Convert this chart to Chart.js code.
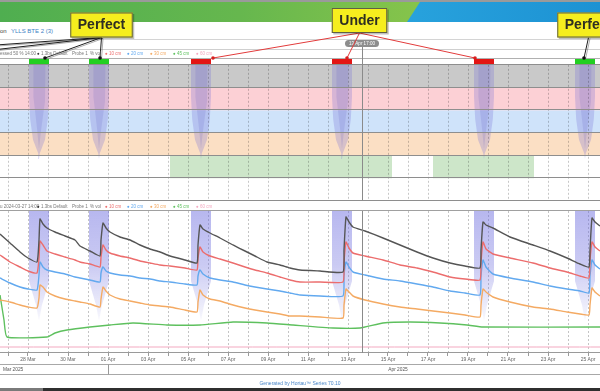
<!DOCTYPE html>
<html><head><meta charset="utf-8">
<script src="https://cdn.jsdelivr.net/npm/chart.js@4.4.1/dist/chart.umd.min.js"></script>
<style>
html,body{margin:0;padding:0;background:#fff;}
body{width:600px;height:391px;position:relative;overflow:hidden;font-family:"Liberation Sans",Arial,sans-serif;}
.abs{position:absolute;}
#topline{left:0;top:0;width:600px;height:2px;background:#9a9a9a;}
#green{left:0;top:2px;width:600px;height:20px;background:linear-gradient(90deg,#4fae50 0%,#66b74e 40%,#86c44b 70%);}
#blue{left:0;top:2px;width:600px;height:20px;background:linear-gradient(90deg,#2aa6df 60%,#1d92d3 100%);clip-path:polygon(420px 0,600px 0,600px 20px,407px 20px);}
.t{font-size:6px;white-space:nowrap;top:28px;}
.leg{font-size:4.5px;color:#777;white-space:nowrap;line-height:5px;}
#cA{left:0;top:0;}
#cB{left:0;top:200px;}
#footer{left:0;width:600px;top:380px;text-align:center;font-size:5px;color:#4a86c8;}
#barL{left:0;top:388px;width:43px;height:3px;background:#7a7a7a;}
#barR{left:43px;top:388px;width:557px;height:3px;background:#2f2f2f;}
</style>
</head>
<body>
<div id="topline" class="abs"></div>
<div id="green" class="abs"></div>
<div id="blue" class="abs"></div>
<div class="abs t" style="left:-12px;color:#444;">Station</div>
<div class="abs t" style="left:11px;color:#3b7fc4;">YLLS BTE 2 (3)</div>
<canvas id="cA" class="abs" width="600" height="201"></canvas>
<canvas id="cB" class="abs" width="600" height="178"></canvas>
<div id="legends"></div>
<div id="footer" class="abs">Generated by Hortau™ Series 70.10</div>
<div id="barL" class="abs"></div>
<div id="barR" class="abs"></div>
<script>
// ---------------- DATA ----------------
const X_MIN = -0.4, X_MAX = 29.6;            // days since 27 Mar
const tickDays   = [1,3,5,7,9,11,13,15,17,19,21,23,25,27,29];
const tickLabels = ['28 Mar','30 Mar','01 Apr','03 Apr','05 Apr','07 Apr','09 Apr','11 Apr','13 Apr','15 Apr','17 Apr','19 Apr','21 Apr','23 Apr','25 Apr'];
const monthStarts = [-26, 5, 35];
const monthNames  = ['Mar 2025','Apr 2025'];

const eventStart  = [-10.25, -4.75, 1.05, 4.05, 9.15, 16.2, 23.3, 28.35];
const eventEnd    = [-9.25, -3.75, 2.05, 5.05, 10.15, 17.2, 24.3, 29.35];
const eventResult = ['Perfect','Perfect','Perfect','Perfect','Under','Under','Under','Perfect'];
const wetStart = [8.1, 21.25];
const wetEnd   = [19.2, 26.3];
const nowDay = 17.7;
const nowLabel = '13 Apr 17:00';

const calloutLabels  = ['Perfect','Under','Perfect'];
const calloutDays    = [4.675, 17.575, 29.025];
const calloutTargets = [[-9.75,-4.25,1.85,4.6],[10.25,16.95,23.35],[28.8]];

const seriesLabels = ['1.3bs Default','10 cm','20 cm','30 cm','45 cm','60 cm'];

const times = [-0.4,0.1,0.6,1.0,1.45,1.55,1.6,1.75,1.95,2.35,2.85,3.35,3.6,4.1,4.6,4.65,4.75,4.9,5.1,5.6,6.1,6.6,7.1,7.6,8.1,8.85,9.45,9.5,9.6,9.75,10.1,10.6,11.25,11.85,12.35,12.95,13.6,14.1,14.6,15.6,16.75,16.8,16.9,17.05,17.25,17.85,18.75,19.6,20.45,21.25,22.1,22.85,23.6,23.65,23.75,23.9,24.25,25.1,26.25,27.1,27.95,28.6,29.05,29.1,29.2,29.35,29.6];
const sumSeries = [59.5,55,50.5,47.5,45.5,56.5,67,64.5,62.5,60.5,58.5,56.5,53.5,51,48.5,56.5,65,62.5,60.5,58,56.5,54,52,50.5,48.5,46.5,45,54,64,62,60,57.5,54,51,48.5,45.5,44,42.5,41.5,41,40.5,51.5,68,65.5,63,61,57.5,54,50.5,47.5,45,43.5,42.5,51.5,65.5,64,62.5,58,54,51,47.5,44.5,43,51.5,67.5,65.5,63.5];
const s10 = [49,45.5,43,41,40,47.5,56,54,51,49.5,48,46.5,45.5,44.5,43,48,54,51.5,50,48.5,47.5,46,45,44,43.5,42.5,41.5,47.5,53,50.5,48.5,47,45,43,41.5,40,38,36.5,35.5,35.5,35.5,45.5,55.5,52.5,50,48.5,46.5,44,42.5,40.5,38,37,36.5,45.5,55.5,52,49.5,47.5,45,42.5,40.5,38.5,37.5,46.5,55.5,53,51];
const s20 = [37.5,35,33,32,31.5,39,45.5,43,41.5,40.5,39.5,38,37.5,36.5,35.5,40,43,41,40,39,38.5,37.5,37,36,35.5,34.5,34,38.5,41.5,39.5,37.5,36.5,35.5,34,33,32,31,30,29,28.5,28.5,38.5,45.5,43,40.5,39,37,36,34.5,33,31,30,29,38.5,46.5,43,39.5,37.5,35.5,33.5,32,31,30,38.5,46.5,44,42];
const s30 = [26.5,25.5,24,23,22.5,27.5,34,33,30.5,28.5,27,26,25.5,24.5,23,27,33,31,29,27,26,25,24,23.5,23,21.5,20.5,25.5,31.5,29,27,26,24,22.5,21.5,20.5,19.5,18.5,18.5,18,17.5,24,32,30.5,28.5,26.5,24.5,23,22,21,20,19,18,24,32,30.5,28,25.5,23,22,20.5,19.5,19,24,32.5,30.5,28.5];
const s45Days = [-0.4,-0.2,-0.05,1.95,2.35,2.95,4.1,5.1,6.25,7.95,9.6,11.25,12.95,14.25,16.25,17.6,18.75,20.1,21.6,22.95,23.75,29.6];
const s45 = [29,16.5,8,8,10,11.5,13,14,15,14,14,15.5,15,14,12.5,12.5,15,15.5,15,14,13,13];
const s60Days = [-0.4, 29.6];
const s60 = [3, 3];

// ---------------- STYLE ----------------
const FONT = '"Liberation Sans", Arial, sans-serif';
Chart.defaults.font.family = FONT;
const seriesColors = ['#555555','#ec6d6d','#62a9ef','#f4aa63','#5ec05e','#f3a9c0'];
const rowFills = ['#ffffff','#ffffff','#fbdfc4','#cfe3fa','#fcd0d5','#c9c9c9'];
const LEG_X = [105,127,150,173,196];

function makeLegend(top, prefix){
  const box = document.getElementById('legends');
  const add = (left, html, color) => {
    const d = document.createElement('div');
    d.className = 'abs leg'; d.style.left = left + 'px'; d.style.top = top + 'px';
    if (color) d.style.color = color;
    d.innerHTML = html; box.appendChild(d);
  };
  add(0, prefix);
  add(37, '<span style="color:#333">●</span> ' + seriesLabels[0]);
  add(72, 'Probe 1');
  add(90, '% vol');
  for (let i = 1; i < seriesLabels.length; i++) add(LEG_X[i-1], '● ' + seriesLabels[i], seriesColors[i]);
}
makeLegend(51, 'essed 50 % 14:00');
makeLegend(204, 'u 2024-03-27 14:00');

const gridDays = [];
for (let d = Math.ceil(X_MIN); d <= Math.floor(X_MAX); d++) gridDays.push(d);

function poly(points, color, order){
  return {data: points.map(p => ({x:p[0], y:p[1]})), fill:'shape', backgroundColor:color,
          borderWidth:0, pointRadius:0, pointHoverRadius:0, tension:0, order};
}
function hline(ctx, x1, x2, y, color){ ctx.strokeStyle = color; ctx.beginPath(); ctx.moveTo(x1, y); ctx.lineTo(x2, y); ctx.stroke(); }
function dashedGrid(chart, yTop, yBot, color){
  const {ctx, scales:{x}} = chart;
  ctx.save(); ctx.lineWidth = 1; ctx.setLineDash([2,2]); ctx.strokeStyle = color;
  gridDays.forEach(d => {
    const px = Math.round(x.getPixelForValue(d)) + 0.5;
    ctx.beginPath(); ctx.moveTo(px, yTop); ctx.lineTo(px, yBot); ctx.stroke();
  });
  ctx.restore();
}

// ---------------- CHART A (bands) ----------------
const dsA = [];
wetStart.forEach((a,i) => { const b = wetEnd[i]; dsA.push(poly([[a,1],[b,1],[b,2],[a,2],[a,1]], '#cde6c9', 40)); });
eventStart.forEach((s,i) => {
  const e = eventEnd[i], w = e - s, m = (s + e) / 2;
  dsA.push(poly([[s,6],[e,6],[e,4.6],[e-0.06*w,3.6],[e-0.2*w,2.7],[m+0.04*w,2.1],[m,1.85],[m-0.04*w,2.1],[s+0.2*w,2.7],[s+0.06*w,3.6],[s,4.6],[s,6]], 'rgba(120,110,215,0.28)', 30));
  dsA.push(poly([[s+0.22*w,6],[e-0.18*w,6],[e-0.2*w,4.4],[m+0.1*w,3.1],[m,2.3],[m-0.1*w,3.2],[s+0.22*w,4.6],[s+0.22*w,6]], 'rgba(95,90,190,0.16)', 25));
  dsA.push(poly([[s,6],[e,6],[e,6.3],[s,6.3],[s,6]], eventResult[i] === 'Perfect' ? '#22cf22' : '#e31515', 10));
});

const bandPlugin = {
  id:'bands',
  beforeDraw(chart){
    const {ctx, chartArea:ca, scales:{y}} = chart;
    ctx.save(); ctx.lineWidth = 1;
    hline(ctx, 0, 600, 39.5, '#d4d4d4');
    hline(ctx, 0, 600, 49.5, '#cfcfcf');
    for (let r = 0; r < rowFills.length; r++){
      const y1 = y.getPixelForValue(r+1), y0 = y.getPixelForValue(r);
      ctx.fillStyle = rowFills[r]; ctx.fillRect(ca.left, y1, ca.width, y0 - y1);
    }
    ctx.restore();
  },
  afterDatasetsDraw(chart){
    const {ctx, chartArea:ca, scales:{x,y}} = chart;
    dashedGrid(chart, y.getPixelForValue(6), y.getPixelForValue(0), 'rgba(0,0,0,0.22)');
    ctx.save(); ctx.lineWidth = 1;
    for (let r = 0; r <= 6; r++) hline(ctx, ca.left, ca.right, Math.round(y.getPixelForValue(r)) - 0.5, '#8e8e8e');
    hline(ctx, ca.left, ca.right, Math.round(y.getPixelForValue(6.3)) + 0.5, '#b0b0b0');
    const nx = Math.round(x.getPixelForValue(nowDay)) + 0.5;
    ctx.strokeStyle = '#8a8a8a';
    ctx.beginPath(); ctx.moveTo(nx, 47); ctx.lineTo(nx, ca.bottom); ctx.stroke();
    ctx.restore();
  },
  afterDraw(chart){
    const {ctx, scales:{x,y}} = chart;
    ctx.save();
    const nx = x.getPixelForValue(nowDay);
    ctx.fillStyle = '#8d8d8d';
    ctx.beginPath(); ctx.roundRect(nx - 17, 40, 34, 7, 3.5); ctx.fill();
    ctx.fillStyle = '#fff'; ctx.font = '4.5px ' + FONT; ctx.textAlign = 'center'; ctx.textBaseline = 'middle';
    ctx.fillText(nowLabel, nx, 43.6);
    calloutLabels.forEach((lab, i) => {
      const cx = x.getPixelForValue(calloutDays[i]);
      const top = lab === 'Under' ? 8 : 12.5, h = 25;
      ctx.font = 'bold 14px ' + FONT;
      const w = ctx.measureText(lab).width + 15;
      const ty = y.getPixelForValue(6.3);
      calloutTargets[i].forEach(t => {
        const tx = x.getPixelForValue(t);
        ctx.lineWidth = 1;
        if (lab !== 'Under'){
          ctx.strokeStyle = 'rgba(110,110,110,0.55)';
          ctx.beginPath(); ctx.moveTo(cx + 1.5, top + h + 1); ctx.lineTo(tx + 1.5, ty + 1); ctx.stroke();
        }
        ctx.strokeStyle = lab === 'Under' ? '#e23b3b' : '#1e1e1e';
        ctx.beginPath(); ctx.moveTo(cx, top + h); ctx.lineTo(tx, ty); ctx.stroke();
        ctx.fillStyle = lab === 'Under' ? '#d91f1f' : '#111';
        ctx.beginPath(); ctx.arc(tx, ty, 1.8, 0, Math.PI * 2); ctx.fill();
      });
      ctx.fillStyle = 'rgba(0,0,0,0.25)';
      ctx.fillRect(cx - w/2 + 1.5, top + 1.5, w, h);
      ctx.fillStyle = '#f6ee1e';
      ctx.fillRect(cx - w/2, top, w, h);
      ctx.strokeStyle = '#5f5f45'; ctx.lineWidth = 1;
      ctx.strokeRect(cx - w/2 + 0.5, top + 0.5, w - 1, h - 1);
      ctx.fillStyle = '#2e2e22'; ctx.textAlign = 'center'; ctx.textBaseline = 'middle';
      ctx.fillText(lab, cx, top + h/2 + 0.5);
    });
    ctx.restore();
  }
};

new Chart(document.getElementById('cA'), {
  type:'line',
  data:{datasets: dsA},
  options:{
    responsive:false, animation:false, events:[], devicePixelRatio:1,
    layout:{padding:{top:58, left:0, right:0, bottom:0}},
    plugins:{legend:{display:false}, tooltip:{enabled:false}},
    scales:{
      x:{type:'linear', min:X_MIN, max:X_MAX, display:false},
      y:{type:'linear', min:0, max:6.3, display:false}
    }
  },
  plugins:[bandPlugin]
});

// ---------------- CHART B (probe lines) ----------------
const pts = (xs, ys) => xs.map((x, i) => ({x, y: ys[i]}));
function columnFill(ctx){
  const ch = ctx.chart, ca = ch.chartArea;
  if (!ca) return 'rgba(105,105,220,0.4)';
  const g = ch.ctx.createLinearGradient(0, ca.top, 0, ch.scales.y.getPixelForValue(16));
  g.addColorStop(0, 'rgba(105,105,222,0.48)');
  g.addColorStop(0.5, 'rgba(110,110,222,0.36)');
  g.addColorStop(1, 'rgba(120,120,222,0.05)');
  return g;
}
const dsB = [];
eventStart.forEach((s,i) => {
  const e = eventEnd[i], w = e - s, m = (s + e) / 2;
  dsB.push(poly([[s,71],[e,71],[e,36],[m+0.15*w,24],[m,16],[m-0.15*w,24],[s,36],[s,71]], columnFill, 50));
});
const lineSets = [[times,sumSeries],[times,s10],[times,s20],[times,s30],[s45Days,s45],[s60Days,s60]];
lineSets.forEach((ls, i) => {
  dsB.push({label: seriesLabels[i], data: pts(ls[0], ls[1]), borderColor: seriesColors[i],
            borderWidth: i === 5 ? 1 : 1.4, pointRadius:0, pointHoverRadius:0, tension:0.15, fill:false, order: 10 + i});
});

const lowerPlugin = {
  id:'lower',
  beforeDraw(chart){
    const {ctx, chartArea:ca} = chart;
    ctx.save(); ctx.lineWidth = 1;
    hline(ctx, 0, 600, 0.5, '#8e8e8e');
    hline(ctx, 0, 600, Math.round(ca.top) - 0.5, '#a0a0a0');
    ctx.restore();
  },
  beforeDatasetsDraw(chart){
    const ca = chart.chartArea;
    dashedGrid(chart, ca.top, ca.bottom, '#c4c4c4');
  },
  afterDraw(chart){
    const {ctx, chartArea:ca, scales:{x}} = chart;
    ctx.save(); ctx.lineWidth = 1;
    hline(ctx, ca.left, ca.right, Math.round(ca.bottom) - 0.5, '#9a9a9a');
    const nx = Math.round(x.getPixelForValue(nowDay)) + 0.5;
    ctx.strokeStyle = '#8a8a8a';
    ctx.beginPath(); ctx.moveTo(nx, ca.top); ctx.lineTo(nx, ca.bottom); ctx.stroke();
    const r0 = Math.round(ca.bottom) + 11.5, r1 = r0 + 10;
    hline(ctx, 0, 600, r0, '#a8a8a8');
    hline(ctx, 0, 600, r1, '#a8a8a8');
    ctx.font = '4.8px ' + FONT; ctx.fillStyle = '#555'; ctx.textBaseline = 'middle';
    monthNames.forEach((mn, i) => {
      const a = monthStarts[i], b = monthStarts[i+1];
      const ax = x.getPixelForValue(a);
      if (ax >= ca.left && ax <= ca.right){
        ctx.strokeStyle = '#999';
        ctx.beginPath(); ctx.moveTo(Math.round(ax) + 0.5, r0); ctx.lineTo(Math.round(ax) + 0.5, r1); ctx.stroke();
      }
      const c = x.getPixelForValue((a + b - 1) / 2);
      const tw = ctx.measureText(mn).width;
      let tx = c - tw / 2;
      if (tx < ca.left + 3) tx = ca.left + 3;
      ctx.textAlign = 'left';
      ctx.fillText(mn, tx, (r0 + r1) / 2);
    });
    ctx.restore();
  }
};

new Chart(document.getElementById('cB'), {
  type:'line',
  data:{datasets: dsB},
  options:{
    responsive:false, animation:false, events:[], devicePixelRatio:1,
    layout:{padding:{top:11, left:0, right:0, bottom:14}},
    plugins:{legend:{display:false}, tooltip:{enabled:false}},
    scales:{
      x:{type:'linear', min:X_MIN, max:X_MAX,
         afterBuildTicks: s => { s.ticks = gridDays.map(v => ({value:v})); },
         grid:{drawOnChartArea:false, drawTicks:true, tickLength:3, tickColor:'#9a9a9a', lineWidth:1},
         border:{display:false},
         ticks:{autoSkip:false, maxRotation:0, minRotation:0, padding:1, color:'#666', font:{size:5},
                callback: v => { const k = tickDays.indexOf(v); return k >= 0 ? tickLabels[k] : ''; }}},
      y:{type:'linear', min:0, max:71, display:false}
    }
  },
  plugins:[lowerPlugin]
});
</script>
</body></html>
